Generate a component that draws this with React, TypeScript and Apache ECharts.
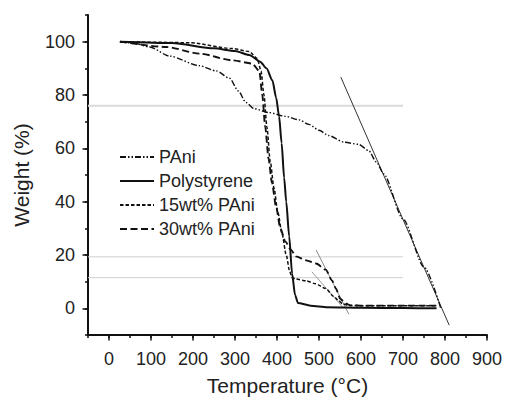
import React, { useEffect, useRef } from "react";
import * as echarts from "echarts";

// ---- data ----
const paniTemp = [26, 60, 97, 144, 215, 256, 287, 308, 326, 345, 381, 420, 452, 476, 500, 523, 560, 594, 618, 637, 654, 700, 750, 790];
const paniWeight = [100, 99.4, 98, 94.6, 91, 89, 86.3, 81.5, 77.2, 74.9, 73.4, 72, 70.7, 69, 66.8, 64.8, 62.3, 61.5, 59.2, 54.8, 50.4, 33.5, 15.5, 0];

const psTemp = [26, 150, 250, 300, 334, 360, 375, 389, 398, 405, 411, 417, 422, 429, 436, 443, 450, 480, 520, 600, 700, 780];
const psWeight = [100, 99.5, 97.5, 96.5, 95, 92.5, 90, 85.5, 79, 72, 62, 49, 40, 27, 13, 5, 2, 1, 0.4, 0.2, 0.1, 0];

const p15Temp = [26, 100, 192, 294, 334, 353, 362, 369, 376, 384, 393, 402, 412, 422, 430, 436, 445, 470, 492, 516, 535, 547, 556, 570, 600, 700, 780];
const p15Weight = [100, 99.8, 99.6, 97.4, 96.3, 93.7, 89, 80, 68, 55, 45, 36, 28, 20, 14, 11.5, 11, 10.3, 9.2, 7.4, 4.5, 2.8, 1.7, 1.1, 1, 1, 1];

const p30Temp = [26, 137, 216, 294, 341, 358, 365, 372, 380, 388, 398, 408, 420, 433, 445, 470, 493, 516, 531, 540, 551, 564, 575, 600, 700, 780];
const p30Weight = [100, 98, 95.5, 93, 91.8, 89, 80, 68, 56, 47, 38, 30, 25, 22, 19.5, 18, 16.8, 14.5, 10.5, 7.5, 3.5, 1.8, 1.1, 1, 1, 1];

// construction lines
const tangentPaniTemp = [552, 810];
const tangentPaniWeight = [86.7, -6.3];
const tangent30Temp = [493, 571];
const tangent30Weight = [21.9, -2.2];
const tangent15Temp = [483, 559];
const tangent15Weight = [13.7, 0];
const refLineTemp = [-50, 700];
const refLine76 = [76, 76];
const refLine19 = [19.3, 19.3];
const refLine11 = [11.5, 11.5];

// axes
const xMin = -50;
const xMax = 900;
const xMajorTicks = [0, 100, 200, 300, 400, 500, 600, 700, 800, 900];
const yMin = -10;
const yMax = 110;
const yMajorTicks = [0, 20, 40, 60, 80, 100];

const seriesNames = ["PAni", "Polystyrene", "15wt% PAni", "30wt% PAni"];

const pair = (xs: number[], ys: number[]) => xs.map((x, i) => [x, ys[i]]);

const FONT = "'Liberation Sans', Arial, Helvetica, sans-serif";
const INK = "#111";

export default function App() {
  const ref = useRef<HTMLDivElement>(null);
  useEffect(() => {
    if (!ref.current) return;
    const chart = echarts.init(ref.current, null, { renderer: "svg" });
    const helper = (name: string, xs: number[], ys: number[], color: string, width: number) => ({
      name,
      type: "line",
      data: pair(xs, ys),
      symbol: "none",
      silent: true,
      z: 1,
      lineStyle: { color, width },
    });
    const mainLine = (name: string, xs: number[], ys: number[], width: number, type: any) => ({
      name,
      type: "line",
      data: pair(xs, ys),
      symbol: "none",
      smooth: 0.25,
      smoothMonotone: "x",
      z: 3,
      itemStyle: { color: INK },
      lineStyle: { color: INK, width, type },
    });
    chart.setOption({
      animation: false,
      textStyle: { fontFamily: FONT },
      grid: { left: 88, right: 16, top: 15, bottom: 61 },
      legend: {
        data: seriesNames,
        orient: "vertical",
        left: 119,
        top: 148,
        padding: 0,
        itemWidth: 34,
        itemHeight: 14,
        itemGap: 6,
        itemStyle: { opacity: 0 },
        textStyle: { fontSize: 18, color: "#222", fontFamily: FONT, lineHeight: 18 },
      },
      xAxis: [
        {
          type: "value",
          min: xMin,
          max: xMax,
          interval: 50,
          splitLine: { show: false },
          axisLine: { show: true, onZero: false, lineStyle: { color: INK, width: 2 } },
          axisTick: { show: true, length: 3, lineStyle: { color: INK, width: 1.5 } },
          axisLabel: {
            fontSize: 18,
            color: "#222",
            margin: 15,
            formatter: (v: number) => (v % 100 === 0 && v >= 0 ? String(v) : ""),
          },
          name: "Temperature (°C)",
          nameLocation: "middle",
          nameGap: 40,
          nameTextStyle: { fontSize: 21, color: "#222" },
        },
        {
          type: "value",
          min: xMin,
          max: xMax,
          position: "bottom",
          splitLine: { show: false },
          axisLine: { show: false, onZero: false },
          axisLabel: { show: false },
          axisTick: { show: true, length: 5.5, customValues: xMajorTicks, lineStyle: { color: INK, width: 1.5 } },
        },
      ],
      yAxis: [
        {
          type: "value",
          min: yMin,
          max: yMax,
          interval: 10,
          splitLine: { show: false },
          axisLine: { show: true, onZero: false, lineStyle: { color: INK, width: 2 } },
          axisTick: { show: true, length: 3, lineStyle: { color: INK, width: 1.5 } },
          axisLabel: {
            fontSize: 18,
            color: "#222",
            margin: 13,
            formatter: (v: number) => (v % 20 === 0 && v >= 0 && v <= 100 ? String(v) : ""),
          },
          name: "Weight (%)",
          nameLocation: "middle",
          nameGap: 56,
          nameTextStyle: { fontSize: 21, color: "#222" },
        },
        {
          type: "value",
          min: yMin,
          max: yMax,
          position: "left",
          splitLine: { show: false },
          axisLine: { show: false, onZero: false },
          axisLabel: { show: false },
          axisTick: { show: true, length: 5.5, customValues: yMajorTicks, lineStyle: { color: INK, width: 1.5 } },
        },
      ],
      series: [
        helper("ref76", refLineTemp, refLine76, "#d9d9d9", 2),
        helper("ref19", refLineTemp, refLine19, "#cfcfcf", 1),
        helper("ref11", refLineTemp, refLine11, "#cfcfcf", 1),
        helper("tanPani", tangentPaniTemp, tangentPaniWeight, "#333", 1),
        helper("tan30", tangent30Temp, tangent30Weight, "#8a8a8a", 1),
        helper("tan15", tangent15Temp, tangent15Weight, "#9a9a9a", 1),
        mainLine(seriesNames[0], paniTemp, paniWeight, 1.4, [6, 2, 1.5, 2, 1.5, 2]),
        mainLine(seriesNames[1], psTemp, psWeight, 2, "solid"),
        mainLine(seriesNames[2], p15Temp, p15Weight, 1.5, [3.5, 2]),
        mainLine(seriesNames[3], p30Temp, p30Weight, 1.9, [7, 3.5]),
      ],
    });
    return () => chart.dispose();
  }, []);
  return (
    <div
      ref={ref}
      style={{ position: "fixed", left: 0, top: 0, width: 505, height: 401, background: "#fff" }}
    />
  );
}
